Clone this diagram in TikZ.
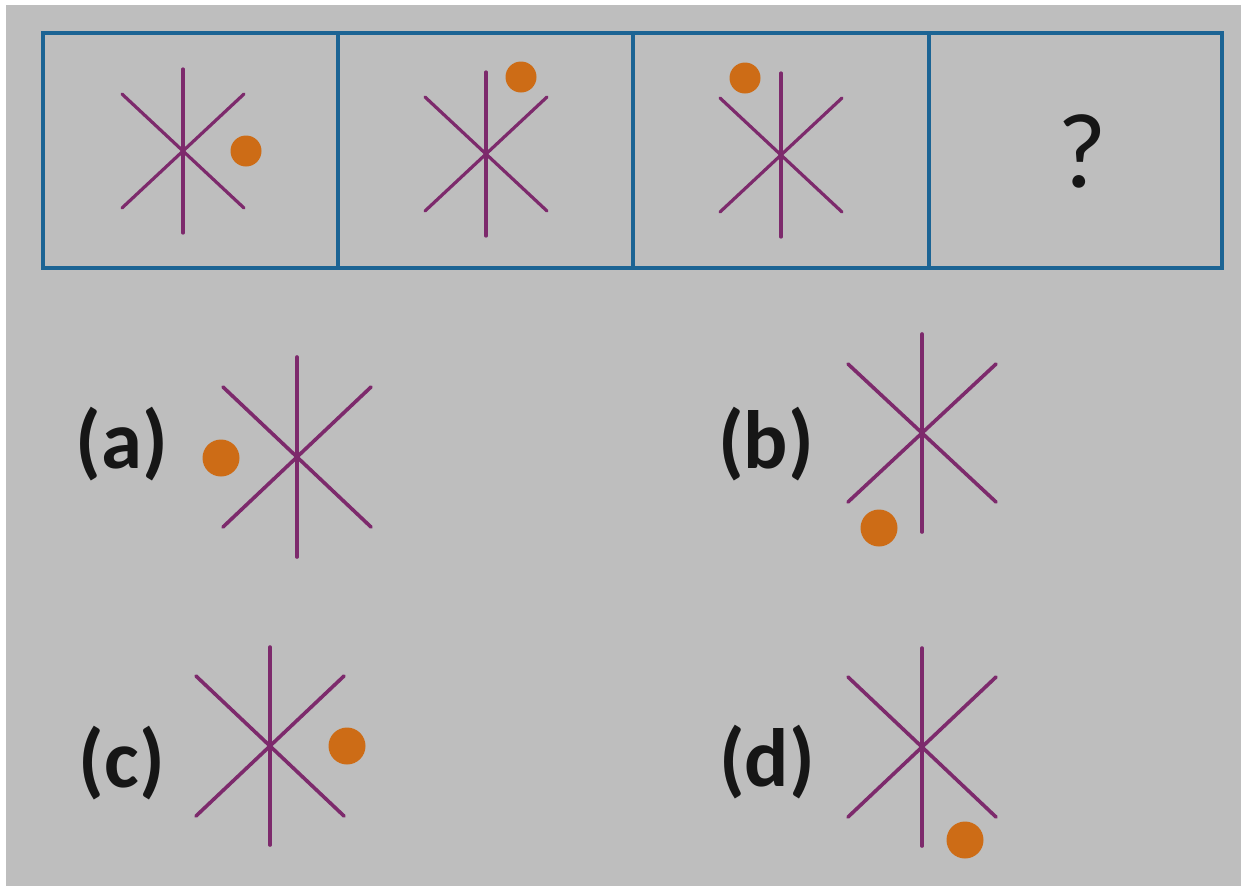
\documentclass[tikz,border=0pt]{standalone}
\usepackage{fontspec}
\setmainfont{Carlito}
\definecolor{bggray}{RGB}{190,190,190}
\definecolor{boxblue}{RGB}{28,100,148}
\definecolor{starpurple}{RGB}{125,42,108}
\definecolor{dotorange}{RGB}{205,108,22}
\definecolor{inkblack}{RGB}{22,22,22}
\tikzset{
  panelbox/.style={draw=boxblue, line width=3.6pt, line join=miter},
  starline/.style={draw=starpurple, line width=2.4pt, line cap=round},
  bigstarline/.style={draw=starpurple, line width=2.7pt, line cap=round},
  dotfill/.style={fill=dotorange},
  optlabel/.style={font=\fontsize{62}{62}\selectfont\bfseries, text=inkblack, inner sep=0pt},
  qmark/.style={font=\fontsize{80}{80}\selectfont, text=inkblack, inner sep=0pt}
}
% #1 style, #2 cx, #3 cy, #4 vertical half, #5 diag half-w, #6 diag half-h
\newcommand\drawmystar[6]{%
  \draw[#1] (#2,#3-#4) -- (#2,#3+#4);
  \draw[#1] (#2-#5,#3-#6) -- (#2+#5,#3+#6);
  \draw[#1] (#2-#5,#3+#6) -- (#2+#5,#3-#6);
}
\begin{document}
\begin{tikzpicture}[x=0.75pt,y=-0.75pt]
\useasboundingbox (0,0) rectangle (1241,886);
\fill[white] (0,0) rectangle (1241,886);
\fill[bggray] (6,5) rectangle (1241,886);
% top panels
\draw[panelbox] (43,33) rectangle (1222,268);
\draw[panelbox] (338,33) -- (338,268);
\draw[panelbox] (633,33) -- (633,268);
\draw[panelbox] (929,33) -- (929,268);
% panel 1
\drawmystar{starline}{183}{151}{82}{61}{57}
\fill[dotfill] (246,151) circle (15.5);
% panel 2
\drawmystar{starline}{486}{154}{82}{61}{57}
\fill[dotfill] (521,77) circle (15.5);
% panel 3
\drawmystar{starline}{781}{155}{82}{61}{57}
\fill[dotfill] (745,78) circle (15.5);
% panel 4
\node[qmark] (q) at (1082,151) {?};
% options
\node[optlabel] (la) at (122,444) {(a)};
\drawmystar{bigstarline}{297}{457}{100}{74}{70}
\fill[dotfill] (221,458) circle (18.5);

\node[optlabel] (lb) at (766,444) {(b)};
\drawmystar{bigstarline}{922}{433}{99}{74}{69}
\fill[dotfill] (879,528) circle (18.5);

\node[optlabel] (lc) at (122,763) {(c)};
\drawmystar{bigstarline}{270}{746}{99}{74}{70}
\fill[dotfill] (347,746) circle (18.5);

\node[optlabel] (ld) at (767,762) {(d)};
\drawmystar{bigstarline}{922}{747}{99}{74}{70}
\fill[dotfill] (965,840) circle (18.5);
\end{tikzpicture}
\end{document}
